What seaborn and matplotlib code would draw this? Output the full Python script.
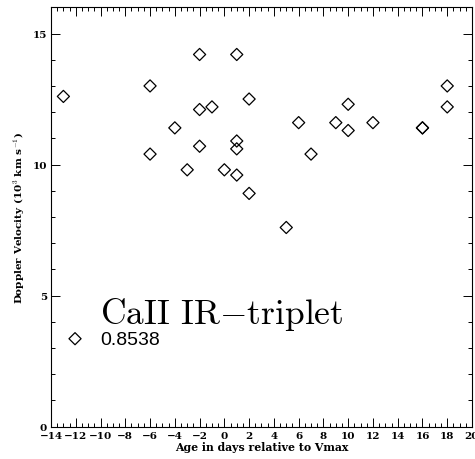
import numpy as np
import pandas as pd
import matplotlib
matplotlib.use("Agg")
import matplotlib.pyplot as plt
from matplotlib.ticker import MultipleLocator
import seaborn as sns

# Data
age = [-13, -6, -6, -4, -3, -2, -2, -2, -1, 0, 1, 1, 1, 1, 2, 2, 5, 6, 7, 9, 10, 10, 12, 16, 16, 18, 18]
velocity = [12.6, 13.0, 10.4, 11.4, 9.8, 14.2, 12.1, 10.7, 12.2, 9.8, 14.2, 10.9, 10.6, 9.6,
            12.5, 8.9, 7.6, 11.6, 10.4, 11.6, 12.3, 11.3, 11.6, 11.4, 11.4, 13.0, 12.2]
series_label = "0.8538"
line_name = "CaII IR$-$triplet"
x_ticks = list(range(-14, 21, 2))
y_ticks = [0, 5, 10, 15]

df = pd.DataFrame({"age": age, "vel": velocity})

sns.set_style("ticks")
plt.rcParams["font.family"] = ["DejaVu Serif"]
plt.rcParams["mathtext.fontset"] = "cm"
plt.rcParams["text.color"] = "black"
plt.rcParams["axes.labelcolor"] = "black"
plt.rcParams["xtick.color"] = "black"
plt.rcParams["ytick.color"] = "black"

fig = plt.figure(figsize=(4.75, 4.6), dpi=100)
ax = fig.add_axes([51 / 475, 1 - 427.7 / 460, (472 - 51) / 475, (427.7 - 8.3) / 460])

sns.scatterplot(data=df, x="age", y="vel", ax=ax, marker="D", s=38,
                facecolor="none", edgecolor="black", linewidth=0.9,
                label=series_label)

ax.set_xlim(-14, 20)
ax.set_ylim(0, 16)
ax.set_xticks(x_ticks)
ax.set_yticks(y_ticks)
ax.xaxis.set_minor_locator(MultipleLocator(0.5))
ax.yaxis.set_minor_locator(MultipleLocator(1))
ax.tick_params(which="both", direction="in", top=True, right=True, width=0.7, colors="black",
               labelsize=7.5)
ax.tick_params(which="major", length=6.5, pad=3)
ax.tick_params(which="minor", length=3)
for lab in ax.get_xticklabels() + ax.get_yticklabels():
    lab.set_fontweight("bold")
for sp in ax.spines.values():
    sp.set_linewidth(0.8)
    sp.set_color("black")

ax.set_xlabel("Age in days relative to Vmax", fontsize=7.8, fontweight="bold", labelpad=1)
ax.set_ylabel("Doppler Velocity (10$^{3}$ km s$^{-1}$)", fontsize=7.5, fontweight="bold", labelpad=4)

leg = ax.legend(loc="center left", bbox_to_anchor=(65.3 / 475, 1 - 340 / 460),
                bbox_transform=fig.transFigure, frameon=False, borderpad=0, borderaxespad=0,
                handlelength=1.0, handletextpad=0.8,
                prop={"family": "Liberation Sans", "size": 14})
for t in leg.get_texts():
    t.set_color("black")

fig.text(100 / 475, 1 - 324 / 460, line_name, family="cmr10", fontsize=25.5,
         ha="left", va="baseline", color="black")

fig.savefig("out.png", dpi=100)
